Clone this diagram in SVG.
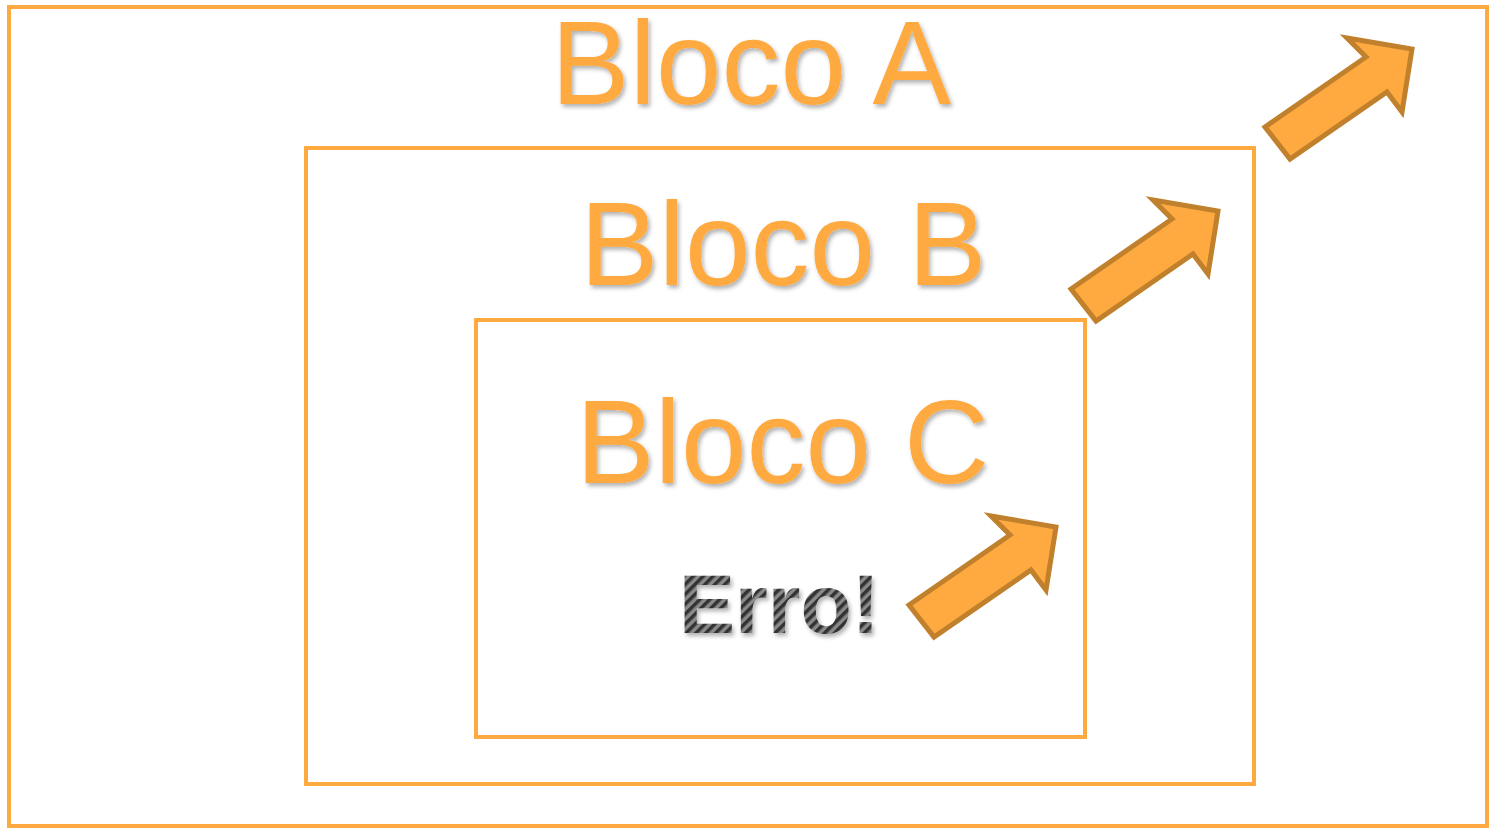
<svg xmlns="http://www.w3.org/2000/svg" width="1489" height="828" viewBox="0 0 1489 828">
<defs>
<style>
.box{fill:none;stroke:#FEAA40;stroke-width:4}
.lbl{font-family:"Liberation Sans",Arial,sans-serif;font-size:118px;fill:#FEAA40;filter:url(#sh)}
.err{font-family:"Liberation Sans",Arial,sans-serif;font-size:84px;font-weight:bold;fill:url(#stripes);filter:url(#sh)}
.arr{fill:#FEAA40;stroke:#C0802C;stroke-width:5;stroke-linejoin:miter}
</style>
<filter id="sh" x="-10%" y="-10%" width="130%" height="140%">
<feDropShadow dx="2" dy="3" stdDeviation="2" flood-color="#000" flood-opacity="0.3"/>
</filter>
<pattern id="stripes" width="7" height="7" patternUnits="userSpaceOnUse" patternTransform="rotate(45)">
<rect width="7" height="7" fill="#8a8a8a"/>
<rect width="3.5" height="7" fill="#333333"/>
</pattern>
<path id="arrow" class="arr" d="M1347,38 L1412,49 L1402,112 L1387,92 L1290,159 L1265,127 L1366,57 Z"/>
</defs>
<g id="blocoA">
<rect class="box" x="9" y="7" width="1478" height="819"/>
<text class="lbl" x="551" y="104">Bloco A</text>
</g>
<g id="blocoB">
<rect class="box" x="306" y="148" width="948" height="636"/>
<text class="lbl" x="580" y="285">Bloco B</text>
</g>
<g id="blocoC">
<rect class="box" x="476" y="320" width="609" height="417"/>
<text class="lbl" x="576" y="483">Bloco C</text>
</g>
<g id="erro">
<text class="err" x="679" y="633">Erro!</text>
</g>
<g id="connectors">
<use href="#arrow"/>
<use href="#arrow" transform="translate(-194,162)"/>
<use href="#arrow" transform="translate(-356,478)"/>
</g>
</svg>
